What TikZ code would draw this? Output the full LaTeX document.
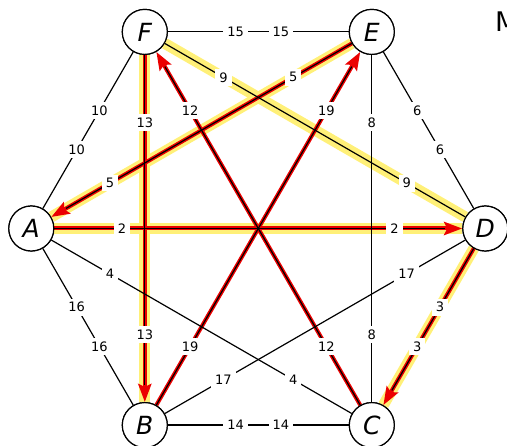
\documentclass[tikz,border=0pt]{standalone}
\usepackage{fontspec}
\setmainfont{DejaVu Sans}
\usetikzlibrary{calc,arrows.meta}
\definecolor{haloY}{RGB}{255,240,120}
\definecolor{redA}{RGB}{235,0,0}
\begin{document}
\begin{tikzpicture}[x=1pt,y=-1pt,
  vert/.style={circle,draw,line width=1.2pt,minimum size=45pt,inner sep=0pt,fill=white,
    font=\fontsize{25}{25}\selectfont\itshape},
  edge/.style={line width=1.2pt,black},
  halo/.style={line width=11pt,haloY},
  redl/.style={line width=4pt,redA,-{Stealth[length=18pt,width=13pt,inset=3pt]}},
  ctr/.style={line width=1.2pt,black,shorten >=17pt},
  wlab/.style={fill=white,inner xsep=4pt,inner ysep=3.5pt,font=\fontsize{13}{13}\selectfont}
]
\useasboundingbox (0,0) rectangle (507,446);
% vertices
\node[vert] (A) at (31.3,228.5) {A};
\node[vert] (D) at (485.3,228.5) {D};
\node[vert] (F) at (144.8,31.9) {F};
\node[vert] (E) at (371.8,31.9) {E};
\node[vert] (B) at (144.8,425.1) {B};
\node[vert] (C) at (371.8,425.1) {C};
\node[anchor=base west,inner sep=0pt,font=\fontsize{27}{27}\selectfont] (title) at (495,32) {M};
% halos
\foreach \a/\b in {A/D,F/B,E/A,F/D,D/C}{
  \draw[halo] (\a) -- (\b);
}
% red arrows
\foreach \a/\b in {A/D,F/B,E/A,D/C,B/E,C/F}{
  \draw[redl] (\a) -- (\b);
}
% plain black edges
\foreach \a/\b in {F/E,F/A,F/D,E/C,E/D,A/B,A/C,D/B,B/C}{
  \draw[edge] (\a) -- (\b);
}
% black centres of arrow edges
\foreach \a/\b in {A/D,F/B,E/A,D/C,B/E,C/F}{
  \draw[ctr] (\a) -- (\b);
}
% labels
\foreach \a/\b/\w in {F/E/15,F/A/10,F/B/13,F/C/12,F/D/9,E/A/5,E/B/19,E/C/8,E/D/6,A/D/2,A/B/16,A/C/4,D/B/17,D/C/3,B/C/14}{
  \node[wlab] at ($(\a)!90.8pt!(\b)$) {\w};
  \node[wlab] at ($(\b)!90.8pt!(\a)$) {\w};
}
% redraw vertices on top
\foreach \n in {A,D,F,E,B,C}{
  \node[vert] at (\n) {\n};
}
\end{tikzpicture}
\end{document}
